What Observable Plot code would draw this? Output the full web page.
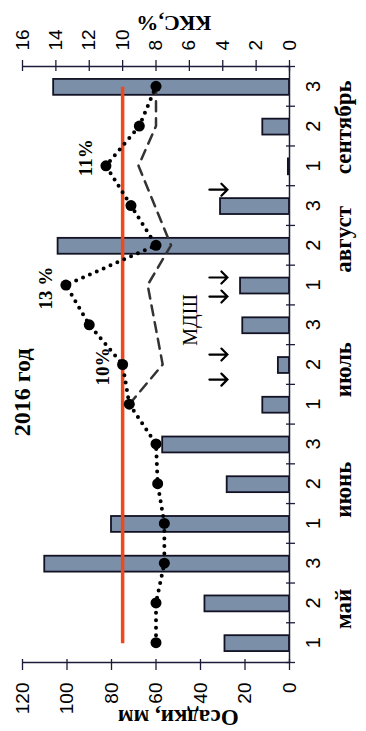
<!DOCTYPE html>
<html>
<head>
<meta charset="utf-8">
<script src="https://cdn.jsdelivr.net/npm/d3@7"></script>
<script src="https://cdn.jsdelivr.net/npm/@observablehq/plot@0.6"></script>
<style>
  html, body { margin: 0; padding: 0; background: #fff; overflow: hidden; }
  #chart {
    position: absolute; left: 0; top: 0; width: 731px; height: 366px;
    transform-origin: 0 0;
    transform: translate(0px, 731px) rotate(-90deg);
  }
</style>
</head>
<body>
<div id="chart"></div>
<script>
// Decades (1,2,3) of each month, May..September 2016
const months = ["май", "июнь", "июль", "август", "сентябрь"];
const monthPos = [0.85, 3.85, 6.87, 10.15, 12.97];
const decadeLabels = ["1","2","3","1","2","3","1","2","3","1","2","3","1","2","3"];
// Precipitation per decade, mm
const precip = [29, 38, 110, 80, 28, 57, 12, 5, 21, 22, 104, 31, 0.5, 12, 106];
// ККС (soil moisture), %
const kks = [8.0, 8.0, 7.5, 7.5, 7.9, 8.0, 9.6, 10.0, 12.0, 13.4, 8.0, 9.5, 11.0, 9.0, 8.0];
// МДШ dashed curve: decade index and value, %
const mdshDecade = [6, 7, 9, 10, 12, 13, 14];
const mdshValue = [9.6, 7.6, 8.5, 7.1, 9.05, 8.0, 8.0];
// Irrigation arrows (position in decade units)
const arrowPos = [6.62, 7.25, 8.71, 9.19, 11.4];
const arrowTop = 36; // mm
// Threshold line ККС, %
const kksLimit = 10;
// Labelled points
const noteDecade = [7, 9, 12];
const noteText = ["10%", "13 %", "11%"];
const noteDx = [-2, -3, 8];
// Axis ticks
const mmTicks = [0, 20, 40, 60, 80, 100, 120];
const kksTicks = [0, 2, 4, 6, 8, 10, 12, 14, 16];

const K = 7.5; // 1 % ККС = 7.5 mm on the shared vertical scale
const idx = d3.range(precip.length);
const boundaries = d3.range(-0.5, precip.length, 1);
const serif = "Liberation Serif, Times New Roman, serif";
const sans = "Liberation Sans, Arial, sans-serif";
const axisColor = "#1c1c3a";

const bars = idx.map(i => ({i, p: precip[i]}));
const kksData = idx.map(i => ({i, v: kks[i] * K}));
const mdshData = mdshDecade.map((d, j) => ({i: d, v: mdshValue[j] * K}));

const noteMarks = noteDecade.map((d, j) =>
  Plot.text([noteText[j]], {x: [d], y: [kks[d] * K], dy: -20, dx: noteDx[j],
    fontFamily: serif, fontWeight: "bold", fontSize: 19}));

// open-headed arrow shape for Plot.vector
const arrowShape = {
  draw(context, l) {
    const h = 6;
    context.moveTo(0, 0);
    context.lineTo(0, -l);
    context.moveTo(-h, -l + h);
    context.lineTo(0, -l);
    context.lineTo(h, -l + h);
  }
};

const chart = Plot.plot({
  width: 731,
  height: 366,
  marginLeft: 68,
  marginRight: 67,
  marginTop: 22,
  marginBottom: 77,
  x: {domain: [-0.5, 14.5], axis: null, label: null},
  y: {domain: [0, 120], axis: null, label: null},
  style: {background: "white", color: "#000"},
  marks: [
    // bars
    Plot.rectY(bars, {x1: d => d.i - 0.2, x2: d => d.i + 0.2, y1: 0, y2: "p",
      fill: "#7b8fa8", stroke: "#121224", strokeWidth: 1.8}),
    // threshold line
    Plot.ruleY([kksLimit * K], {x1: 0, x2: 14, stroke: "#f0481e", strokeWidth: 3.5}),
    // МДШ dashed
    Plot.line(mdshData, {x: "i", y: "v", stroke: "#333", strokeWidth: 2.5, strokeDasharray: "10 7"}),
    // ККС dotted
    Plot.line(kksData, {x: "i", y: "v", stroke: "#000", strokeWidth: 4, strokeDasharray: "0 7.5", strokeLinecap: "round"}),
    Plot.dot(kksData, {x: "i", y: "v", r: 5.5, fill: "#000"}),
    // irrigation arrows
    Plot.vector(arrowPos, {x: d => d, y: arrowTop, length: 18, rotate: 180, anchor: "start",
      shape: arrowShape, stroke: "#000", strokeWidth: 2.2, strokeLinejoin: "miter"}),
    // annotations
    ...noteMarks,
    Plot.text(["МДШ"], {x: [8.12], y: [44.5], fontFamily: serif, fontSize: 20}),
    Plot.text(["2016 год"], {x: [6.3], y: [120], fontFamily: serif, fontWeight: "bold", fontSize: 24}),
    // axis lines
    Plot.ruleY([0], {x1: -0.5, x2: 14.5, stroke: axisColor, strokeWidth: 1.5}),
    Plot.ruleX([-0.5, 14.5], {y1: 0, y2: 120, stroke: axisColor, strokeWidth: 1.5}),
    // ticks
    Plot.axisX({ticks: boundaries, tickSize: 9, dy: -3, tickFormat: () => "", label: null, stroke: axisColor, strokeWidth: 1.3}),
    Plot.axisY({anchor: "left", ticks: mmTicks, tickSize: 11, dx: 4, tickFormat: () => "", label: null, stroke: axisColor, strokeWidth: 1.3}),
    Plot.axisY({anchor: "right", ticks: kksTicks.map(v => v * K), tickSize: 11, dx: -5, tickFormat: () => "", label: null, stroke: axisColor, strokeWidth: 1.3}),
    // tick labels
    Plot.axisX({ticks: idx, tickSize: 0, tickPadding: 16, tickFormat: i => decadeLabels[i], label: null, fontSize: 20, fontFamily: sans}),
    Plot.axisX({ticks: monthPos, tickSize: 0, tickPadding: 45, tickFormat: (d, i) => months[i], label: null, fontSize: 23, fontFamily: serif, fontWeight: "bold"}),
    Plot.axisY({anchor: "left", ticks: mmTicks, tickSize: 0, tickPadding: 20, label: null, fontSize: 19, fontFamily: sans}),
    Plot.axisY({anchor: "right", ticks: kksTicks.map(v => v * K), tickSize: 0, tickPadding: 16, tickFormat: d => d / K, label: null, fontSize: 19, fontFamily: sans}),
    // axis titles
    Plot.text(["Осадки, мм"], {x: [-0.5], y: [50], dx: -55, rotate: -90, fontFamily: serif, fontWeight: "bold", fontSize: 23}),
    Plot.text(["ККС,%"], {x: [14.5], y: [52], dx: 43, rotate: -90, fontFamily: serif, fontWeight: "bold", fontSize: 22})
  ]
});
document.getElementById("chart").appendChild(chart);
</script>
</body>
</html>
